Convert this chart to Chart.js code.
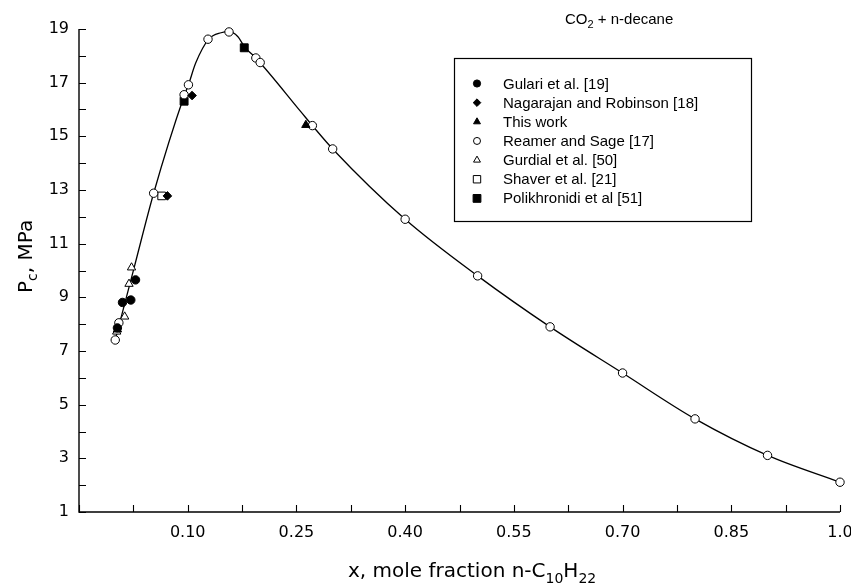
<!DOCTYPE html>
<html>
<head>
<meta charset="utf-8">
<script src="https://cdn.jsdelivr.net/npm/chart.js@4.4.0/dist/chart.umd.min.js"></script>
<style>
html,body{margin:0;padding:0;background:#fff;}
canvas{display:block;}
</style>
</head>
<body>
<canvas id="c" width="851" height="584"></canvas>
<script>
// ---------- data ----------
const seriesNames = [
  'Gulari et al. [19]',
  'Nagarajan and Robinson [18]',
  'This work',
  'Reamer and Sage [17]',
  'Gurdial et al. [50]',
  'Shaver et al. [21]',
  'Polikhronidi et al [51]'
];
const gulariX = [0.003, 0.010, 0.0215, 0.028];
const gulariP = [7.86, 8.81, 8.90, 9.65];
const nagarajanX = [0.072, 0.106];
const nagarajanP = [12.78, 16.52];
const thisWorkX = [0.003, 0.263];
const thisWorkP = [7.80, 15.42];
const reamerX = [0.000, 0.005, 0.053, 0.095, 0.101, 0.128, 0.157, 0.194, 0.200, 0.272, 0.300, 0.40, 0.50, 0.60, 0.70, 0.80, 0.90, 1.00];
const reamerP = [7.41, 8.05, 12.88, 16.55, 16.92, 18.62, 18.89, 17.92, 17.75, 15.40, 14.53, 11.91, 9.80, 7.90, 6.18, 4.47, 3.11, 2.11];
const gurdialX = [0.002, 0.013, 0.019, 0.0225];
const gurdialP = [7.72, 8.28, 9.50, 10.11];
const shaverX = [0.064];
const shaverP = [12.78];
const polikhronidiX = [0.095, 0.178];
const polikhronidiP = [16.31, 18.30];
// smooth correlation curve
const curveX = [0.000, 0.026, 0.053, 0.095, 0.101, 0.111, 0.129, 0.146, 0.157, 0.169, 0.179, 0.194, 0.256, 0.272, 0.300, 0.40, 0.50, 0.60, 0.70, 0.80, 0.90, 1.00];
const curveP = [7.41, 10.10, 12.88, 16.50, 16.92, 17.73, 18.62, 18.86, 18.90, 18.72, 18.31, 17.92, 15.92, 15.40, 14.53, 11.91, 9.80, 7.90, 6.18, 4.47, 3.11, 2.11];

// ticks
const xMinorTicks = [-0.05, 0.025, 0.175, 0.325, 0.475, 0.625, 0.775, 0.925];
const xMajorTicks = [0.10, 0.25, 0.40, 0.55, 0.70, 0.85, 1.0];
const xMajorLabels = ['0.10', '0.25', '0.40', '0.55', '0.70', '0.85', '1.0'];
const yAllTicks = [1,2,3,4,5,6,7,8,9,10,11,12,13,14,15,16,17,18,19];
const yLabelTicks = [1,3,5,7,9,11,13,15,17,19];
const yLabels = ['1','3','5','7','9','11','13','15','17','19'];

const chartTitle = ['CO', '2', ' + n-decane'];
const xTitleParts = ['x, mole fraction n-C', '10', 'H', '22'];
const yTitleParts = ['P', 'c', ', MPa'];

// ---------- helpers ----------
const pts = (xs, ys) => xs.map((x, i) => ({x: x, y: ys[i]}));
const styles = [
  {pointStyle: 'circle',   fill: '#000', r: 4.2, lr: 3.6},
  {pointStyle: 'rectRot',  fill: '#000', r: 4.3, lr: 3.8},
  {pointStyle: 'triangle', fill: '#000', r: 4.8, lr: 4.0},
  {pointStyle: 'circle',   fill: '#fff', r: 4.2, lr: 3.5},
  {pointStyle: 'triangle', fill: '#fff', r: 4.8, lr: 4.0},
  {pointStyle: 'rect',     fill: '#fff', r: 5.4, lr: 3.7},
  {pointStyle: 'rect',     fill: '#000', r: 5.6, lr: 3.9}
];
const seriesData = [
  pts(gulariX, gulariP), pts(nagarajanX, nagarajanP), pts(thisWorkX, thisWorkP),
  pts(reamerX, reamerP), pts(gurdialX, gurdialP), pts(shaverX, shaverP),
  pts(polikhronidiX, polikhronidiP)
];

const datasets = seriesNames.map((name, i) => ({
  label: name,
  data: seriesData[i],
  showLine: false,
  pointStyle: styles[i].pointStyle,
  pointRadius: styles[i].r,
  pointHoverRadius: styles[i].r,
  pointBackgroundColor: styles[i].fill,
  pointBorderColor: '#000',
  pointBorderWidth: 1,
  clip: false,
  order: 1
}));
datasets.push({
  label: 'curve',
  data: pts(curveX, curveP),
  showLine: true,
  borderColor: '#000',
  borderWidth: 1.3,
  pointRadius: 0,
  pointHoverRadius: 0,
  cubicInterpolationMode: 'monotone',
  clip: false,
  order: 10
});

function drawShape(ctx, style, x, y, r, fill) {
  ctx.beginPath();
  if (style === 'circle') {
    ctx.arc(x, y, r, 0, Math.PI * 2);
  } else if (style === 'triangle') {
    ctx.moveTo(x, y - r);
    ctx.lineTo(x + r * 0.866, y + r * 0.5);
    ctx.lineTo(x - r * 0.866, y + r * 0.5);
    ctx.closePath();
  } else if (style === 'rectRot') {
    ctx.moveTo(x, y - r); ctx.lineTo(x + r, y); ctx.lineTo(x, y + r); ctx.lineTo(x - r, y);
    ctx.closePath();
  } else {
    ctx.rect(x - r, y - r, 2 * r, 2 * r);
  }
  ctx.fillStyle = fill; ctx.fill();
  ctx.lineWidth = 1; ctx.strokeStyle = '#000'; ctx.stroke();
}

function drawParts(ctx, parts, x, y, mainFont, subFont, subOffset) {
  ctx.textAlign = 'left';
  ctx.textBaseline = 'alphabetic';
  parts.forEach((p, i) => {
    const sub = i % 2 === 1;
    ctx.font = sub ? subFont : mainFont;
    ctx.fillText(p, x, y + (sub ? subOffset : 0));
    x += ctx.measureText(p).width;
  });
}

const decor = {
  id: 'decor',
  beforeDatasetsDraw(chart) {
    const ctx = chart.ctx;
    const xs = chart.scales.x, ys = chart.scales.y;
    const left = xs.getPixelForValue(-0.05), right = xs.getPixelForValue(1.0);
    const top = ys.getPixelForValue(19), bottom = ys.getPixelForValue(1);
    ctx.save();
    ctx.strokeStyle = '#000';
    ctx.lineWidth = 1.4;
    ctx.beginPath();
    ctx.moveTo(left, top); ctx.lineTo(left, bottom); ctx.lineTo(right, bottom);
    ctx.stroke();
    ctx.lineWidth = 1.1;
    ctx.beginPath();
    xs.ticks.forEach(t => {
      const px = Math.round(xs.getPixelForValue(t.value)) + 0.5;
      ctx.moveTo(px, bottom); ctx.lineTo(px, bottom - 7);
    });
    ys.ticks.forEach(t => {
      const py = Math.round(ys.getPixelForValue(t.value)) + 0.5;
      ctx.moveTo(left, py); ctx.lineTo(left + 7, py);
    });
    ctx.stroke();
    ctx.restore();
  },
  afterDraw(chart) {
    const ctx = chart.ctx;
    ctx.save();
    ctx.fillStyle = '#000';
    // title
    drawParts(ctx, chartTitle, 565, 24, '15px "Liberation Sans"', '11px "Liberation Sans"', 4);
    // x title
    drawParts(ctx, xTitleParts, 348, 577, '20px "DejaVu Sans"', '14px "DejaVu Sans"', 5.5);
    // y title (rotated)
    ctx.save();
    ctx.translate(32, 293);
    ctx.rotate(-Math.PI / 2);
    drawParts(ctx, yTitleParts, 0, 0, '20px "DejaVu Sans"', '14px "DejaVu Sans"', 5);
    ctx.restore();
    // legend box
    ctx.strokeStyle = '#000';
    ctx.lineWidth = 1.2;
    ctx.strokeRect(454.5, 58.5, 297, 163);
    seriesNames.forEach((name, i) => {
      const base = 88.5 + 19.15 * i;
      drawShape(ctx, styles[i].pointStyle, 477, base - 5, styles[i].lr, styles[i].fill);
      ctx.fillStyle = '#000';
      ctx.font = '15px "Liberation Sans"';
      ctx.textAlign = 'left';
      ctx.textBaseline = 'alphabetic';
      ctx.fillText(name, 503, base);
    });
    ctx.restore();
  }
};

const tickFont = {family: '"DejaVu Sans"', size: 16};

new Chart(document.getElementById('c'), {
  type: 'scatter',
  data: {datasets: datasets},
  plugins: [decor],
  options: {
    responsive: false,
    animation: false,
    devicePixelRatio: 1,
    layout: {padding: {top: 29, right: 11, bottom: 0, left: 0}},
    plugins: {legend: {display: false}, tooltip: {enabled: false}, title: {display: false}},
    scales: {
      x: {
        type: 'linear', position: 'bottom', min: -0.05, max: 1.0,
        grid: {display: false, drawTicks: false},
        border: {display: false},
        afterBuildTicks: s => {
          s.ticks = xMinorTicks.concat(xMajorTicks).sort((a, b) => a - b).map(v => ({value: v}));
        },
        afterFit: s => { s.height = 72; s.paddingLeft = 0; s.paddingRight = 0; },
        ticks: {
          autoSkip: false, maxRotation: 0, minRotation: 0, padding: 11,
          color: '#000', font: tickFont,
          callback: v => {
            const i = xMajorTicks.findIndex(t => Math.abs(t - v) < 1e-6);
            return i >= 0 ? xMajorLabels[i] : '';
          }
        }
      },
      y: {
        type: 'linear', position: 'left', min: 1, max: 19,
        grid: {display: false, drawTicks: false},
        border: {display: false},
        afterBuildTicks: s => { s.ticks = yAllTicks.map(v => ({value: v})); },
        afterFit: s => { s.width = 79; s.paddingTop = 0; s.paddingBottom = 0; },
        ticks: {
          autoSkip: false, padding: 10, color: '#000', font: tickFont,
          callback: v => {
            const i = yLabelTicks.indexOf(v);
            return i >= 0 ? yLabels[i] : '';
          }
        }
      }
    }
  }
});
</script>
</body>
</html>
